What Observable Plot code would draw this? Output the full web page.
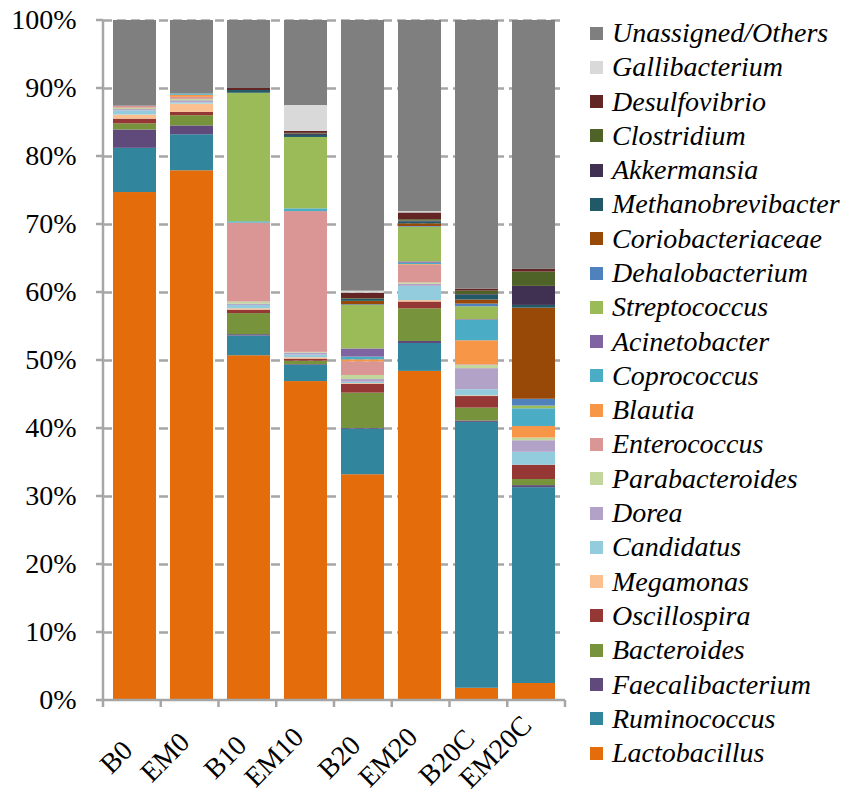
<!DOCTYPE html>
<html><head><meta charset="utf-8">
<script src="https://cdn.jsdelivr.net/npm/d3@7"></script>
<script src="https://cdn.jsdelivr.net/npm/@observablehq/plot@0.6"></script>
<style>
body{margin:0;background:#fff;}
#wrap{position:relative;width:846px;height:797px;overflow:hidden;}
#legend{position:absolute;left:0;top:0;font-family:"Liberation Serif","Times New Roman",serif;font-style:italic;font-size:28px;color:#000;}
.item{position:absolute;left:590px;display:flex;align-items:center;white-space:nowrap;height:34px;}
.sw{width:13px;height:13px;margin-right:9px;flex:none;}
</style></head><body><div id="wrap"><div id="legend"></div></div>
<script>
const samples = ["B0","EM0","B10","EM10","B20","EM20","B20C","EM20C"];
const taxa = ["Lactobacillus","Ruminococcus","Faecalibacterium","Bacteroides","Oscillospira","Megamonas","Candidatus","Dorea","Parabacteroides","Enterococcus","Blautia","Coprococcus","Acinetobacter","Streptococcus","Dehalobacterium","Coriobacteriaceae","Methanobrevibacter","Akkermansia","Clostridium","Desulfovibrio","Gallibacterium","Unassigned/Others"];
const colors = ["#E46C0A","#31859C","#604A7B","#77933C","#953735","#FAC090","#93CDDD","#B3A2C7","#C3D69B","#D99694","#F79646","#4BACC6","#8064A2","#9BBB59","#4F81BD","#984807","#215968","#403152","#4F6228","#632523","#D9D9D9","#7F7F7F"];
const yTicks = [0,10,20,30,40,50,60,70,80,90,100];

// values (%) per sample, in order B0, EM0, B10, EM10, B20, EM20, B20C, EM20C
const Lactobacillus      = [74.7, 77.9, 50.7, 46.9, 33.2, 48.4,  1.8,  2.5];
const Ruminococcus       = [ 6.5,  5.3,  2.9,  2.4,  6.7,  4.1, 39.1, 28.8];
const Faecalibacterium   = [ 2.7,  1.3,  0.2,  0.1,  0.1,  0.3,  0.2,  0.3];
const Bacteroides        = [ 0.9,  1.5,  3.1,  0.5,  5.2,  4.8,  1.9,  0.9];
const Oscillospira       = [ 0.7,  0.5,  0.5,  0.3,  1.3,  1.0,  1.7,  2.1];
const Megamonas          = [ 0.6,  1.2,  0.2,  0.2,  0.1,  0.2,  0.1,  0.0];
const Candidatus         = [ 0.6,  0.2,  0.5,  0.4,  0.2,  2.1,  0.9,  1.9];
const Dorea              = [ 0.2,  0.3,  0.2,  0.3,  0.4,  0.3,  3.1,  1.7];
const Parabacteroides    = [ 0.2,  0.2,  0.3,  0.1,  0.6,  0.2,  0.5,  0.4];
const Enterococcus       = [ 0.3,  0.3, 11.6, 20.7,  2.0,  2.6,  0.1,  0.0];
const Blautia            = [ 0.0,  0.3,  0.0,  0.0,  0.3,  0.1,  3.5,  1.7];
const Coprococcus        = [ 0.0,  0.2,  0.2,  0.4,  0.4,  0.2,  3.0,  2.6];
const Acinetobacter      = [ 0.0,  0.0,  0.0,  0.0,  1.2,  0.2,  0.1,  0.0];
const Streptococcus      = [ 0.0,  0.0, 18.9, 10.5,  6.4,  5.1,  1.9,  0.4];
const Dehalobacterium    = [ 0.0,  0.0,  0.0,  0.0,  0.1,  0.1,  0.4,  1.0];
const Coriobacteriaceae  = [ 0.0,  0.0,  0.0,  0.0,  0.5,  0.4,  0.6, 13.4];
const Methanobrevibacter = [ 0.0,  0.0,  0.4,  0.3,  0.3,  0.3,  0.7,  0.4];
const Akkermansia        = [ 0.0,  0.0,  0.0,  0.2,  0.0,  0.1,  0.1,  2.8];
const Clostridium        = [ 0.0,  0.0,  0.0,  0.1,  0.1,  0.2,  0.5,  2.1];
const Desulfovibrio      = [ 0.0,  0.0,  0.3,  0.3,  0.8,  1.0,  0.3,  0.4];
const Gallibacterium     = [ 0.0,  0.0,  0.0,  3.8,  0.3,  0.2,  0.0,  0.0];
const Others             = [12.6, 10.8, 10.0, 12.5, 39.8, 28.1, 39.5, 36.6];

const series = [Lactobacillus,Ruminococcus,Faecalibacterium,Bacteroides,Oscillospira,Megamonas,Candidatus,Dorea,Parabacteroides,Enterococcus,Blautia,Coprococcus,Acinetobacter,Streptococcus,Dehalobacterium,Coriobacteriaceae,Methanobrevibacter,Akkermansia,Clostridium,Desulfovibrio,Gallibacterium,Others];

const rows = [];
taxa.forEach((t, ti) => series[ti].forEach((v, si) => rows.push({sample: samples[si], taxon: t, value: v})));

const axisColor = "#a6a6a6";
const font = '"Liberation Serif","Times New Roman",serif';

function axesMark(index, scales, values, dims) {
  const g = d3.create("svg:g").attr("stroke", axisColor).attr("stroke-width", 2.5).attr("fill", "none");
  const left = dims.marginLeft, right = dims.width - dims.marginRight;
  const y0 = scales.y(0), y1 = scales.y(100);
  g.append("line").attr("x1", left).attr("x2", left).attr("y1", y1).attr("y2", y0);
  for (const t of yTicks) g.append("line").attr("x1", left - 7).attr("x2", left).attr("y1", scales.y(t)).attr("y2", scales.y(t));
  g.append("line").attr("x1", left).attr("x2", right).attr("y1", y0).attr("y2", y0);
  const step = (right - left) / samples.length;
  for (let k = 0; k <= samples.length; k++) g.append("line").attr("x1", left + k*step).attr("x2", left + k*step).attr("y1", y0).attr("y2", y0 + 7);
  return g.node();
}

const chart = Plot.plot({
  width: 580, height: 797,
  marginLeft: 103, marginRight: 15, marginTop: 20, marginBottom: 97,
  style: {fontFamily: font, fontSize: "28px", background: "white", overflow: "visible", color: "#000"},
  x: {domain: samples, paddingInner: 0.24, paddingOuter: 0.12, axis: null},
  y: {domain: [0, 100], axis: null},
  color: {domain: taxa, range: colors},
  marks: [
    Plot.ruleY(yTicks.filter(d => d > 0), {y: d => d, stroke: axisColor, strokeWidth: 2.5, strokeDasharray: "9,5"}),
    Plot.barY(rows, {x: "sample", y: "value", fill: "taxon", order: taxa}),
    axesMark,
    Plot.text(yTicks, {y: d => d, text: d => d + "%", frameAnchor: "left", textAnchor: "end", dx: -27, fontSize: 28, fill: "#000"}),
    Plot.text(samples, {x: d => d, text: d => d, frameAnchor: "bottom", rotate: -45, textAnchor: "end", dy: 30, fontSize: 28, fill: "#000", className: "xlab"})
  ]
});
const wrap = document.getElementById("wrap");
wrap.insertBefore(chart, wrap.firstChild);
chart.style.position = "absolute"; chart.style.left = "0px"; chart.style.top = "0px";

// position rotated category labels like the reference (right edge near tick, centered vertically, kept inside)
const xs = chart.scale("x");
const svgRect = chart.getBoundingClientRect();
chart.querySelectorAll(".xlab text").forEach((el, i) => {
  const cx = xs.apply(samples[i]) + xs.bandwidth / 2;
  const r = el.getBoundingClientRect();
  const right = r.right - svgRect.left, mid = (r.top + r.bottom) / 2 - svgRect.top;
  const h = r.bottom - r.top;
  const target = Math.min(757, 794 - h / 2);
  const sx = cx + 4 - right, sy = target - mid;
  el.setAttribute("transform", `translate(${sx},${sy}) ` + (el.getAttribute("transform") || ""));
});

// legend (top entry = last stacked series)
const legend = document.getElementById("legend");
taxa.slice().reverse().forEach((t, i) => {
  const ci = taxa.indexOf(t);
  const item = document.createElement("div");
  item.className = "item";
  item.style.top = (33 + i * 34.29 - 17) + "px";
  item.innerHTML = `<span class="sw" style="background:${colors[ci]}"></span><span>${t}</span>`;
  legend.appendChild(item);
});
</script>
</body></html>
